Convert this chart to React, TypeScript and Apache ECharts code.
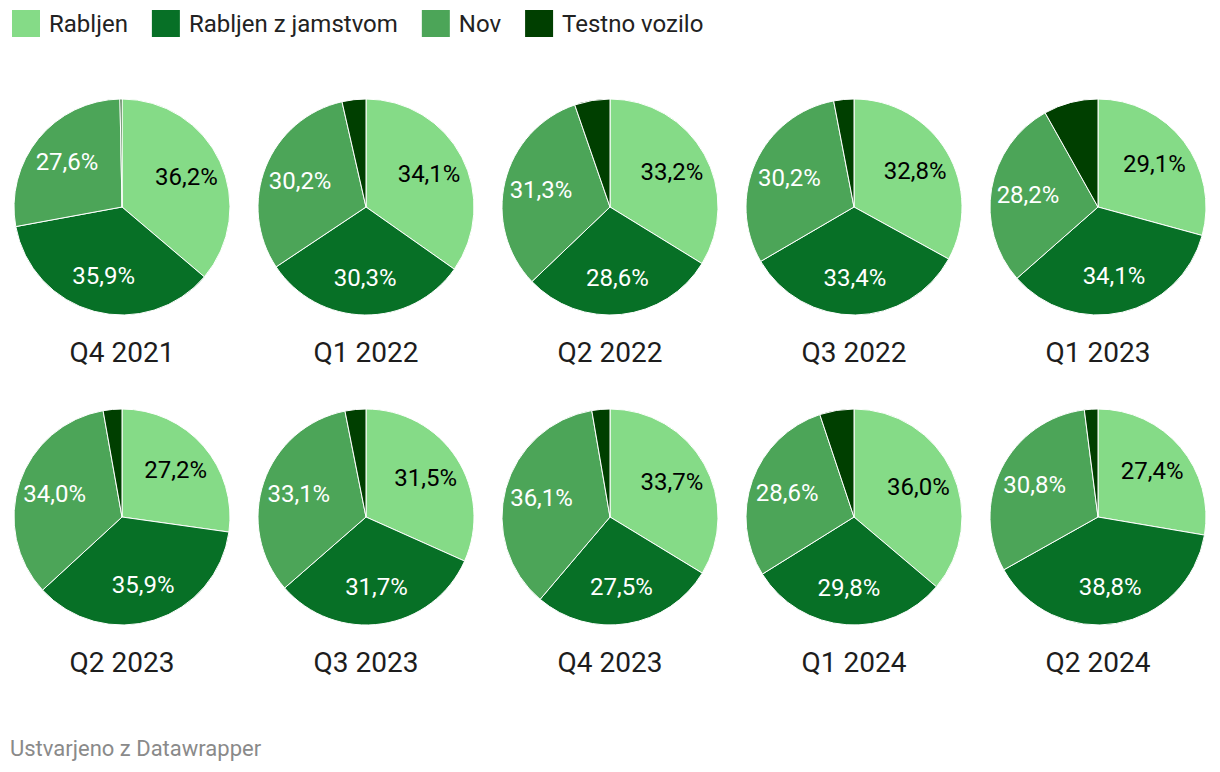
import React, { useEffect, useRef } from "react";
import * as echarts from "echarts";

const categories = ["Rabljen", "Rabljen z jamstvom", "Nov", "Testno vozilo"];
const quarters = ["Q4 2021", "Q1 2022", "Q2 2022", "Q3 2022", "Q1 2023", "Q2 2023", "Q3 2023", "Q4 2023", "Q1 2024", "Q2 2024"];
const rabljen = [36.2, 34.1, 33.2, 32.8, 29.1, 27.2, 31.5, 33.7, 36.0, 27.4];
const jamstvo = [35.9, 30.3, 28.6, 33.4, 34.1, 35.9, 31.7, 27.5, 29.8, 38.8];
const nov = [27.6, 30.2, 31.3, 30.2, 28.2, 34.0, 33.1, 36.1, 28.6, 30.8];
const testno = [0.3, 3.5, 5.2, 3.0, 8.1, 2.8, 3.1, 2.7, 5.1, 2.0];

const colors = ["#85db87", "#077026", "#4ca558", "#003f00"];
const labelColors = ["#000000", "#ffffff", "#ffffff", "#ffffff"];
const FONT = "Roboto";

const fmt = (v: number) => v.toFixed(1).replace(".", ",") + "%";

export default function App() {
  const ref = useRef<HTMLDivElement>(null);
  useEffect(() => {
    if (!ref.current) return;
    const chart = echarts.init(ref.current, null, { renderer: "svg" });
    const R = 108;
    const centers = quarters.map((_, i) => {
      const col = i % 5;
      const row = Math.floor(i / 5);
      return [122 + 244 * col, 207 + 310 * row];
    });
    const valuesFor = (i: number) => [rabljen[i], jamstvo[i], nov[i], testno[i]];
    const pieSeries: any[] = quarters.map((q, i) => ({
      type: "pie",
      name: q,
      center: centers[i],
      radius: [0, R],
      startAngle: 90,
      clockwise: true,
      avoidLabelOverlap: false,
      label: { show: false },
      labelLine: { show: false },
      emphasis: { disabled: true },
      itemStyle: { borderColor: "#ffffff", borderWidth: 1 },
      data: valuesFor(i).map((v, k) => ({
        name: categories[k],
        value: v,
        itemStyle: { color: colors[k] },
      })),
    }));
    const labelSeries: any[] = quarters.map((q, i) => ({
      type: "pie",
      name: q + " labels",
      center: centers[i],
      radius: [28, R],
      startAngle: 90,
      clockwise: true,
      silent: true,
      avoidLabelOverlap: false,
      emphasis: { disabled: true },
      labelLine: { show: false },
      label: {
        show: true,
        position: "inside",
        fontFamily: FONT,
        fontSize: 24,
        formatter: (p: any) => fmt(p.value),
      },
      itemStyle: { color: "rgba(0,0,0,0)", borderWidth: 0 },
      data: valuesFor(i).map((v, k) => ({
        name: categories[k],
        value: v,
        itemStyle: { color: "rgba(0,0,0,0)" },
        label: { show: k < 3, color: labelColors[k] },
      })),
    }));
    const titles = quarters.map((q, i) => ({
      type: "text",
      x: centers[i][0],
      y: centers[i][1] + 145,
      style: {
        text: q,
        fill: "#1d1d1d",
        font: `28px ${FONT}`,
        textAlign: "center",
        textVerticalAlign: "middle",
      },
    }));
    chart.setOption({
      animation: false,
      backgroundColor: "#ffffff",
      legend: {
        left: 5,
        top: 3,
        itemWidth: 30,
        itemHeight: 29,
        itemGap: 22,
        icon: "rect",
        selectedMode: false,
        data: categories,
        textStyle: { fontFamily: FONT, fontSize: 24, color: "#222222", padding: [0, 0, 0, 3] },
      },
      series: [...pieSeries, ...labelSeries],
      graphic: [
        ...titles,
        {
          type: "text",
          x: 10,
          y: 748,
          style: {
            text: "Ustvarjeno z Datawrapper",
            fill: "#8a8a8a",
            font: `22px ${FONT}`,
            textVerticalAlign: "middle",
          },
        },
      ],
    });
    return () => chart.dispose();
  }, []);
  return (
    <div
      ref={ref}
      style={{ position: "absolute", left: 0, top: 0, width: 1220, height: 772 }}
    />
  );
}
